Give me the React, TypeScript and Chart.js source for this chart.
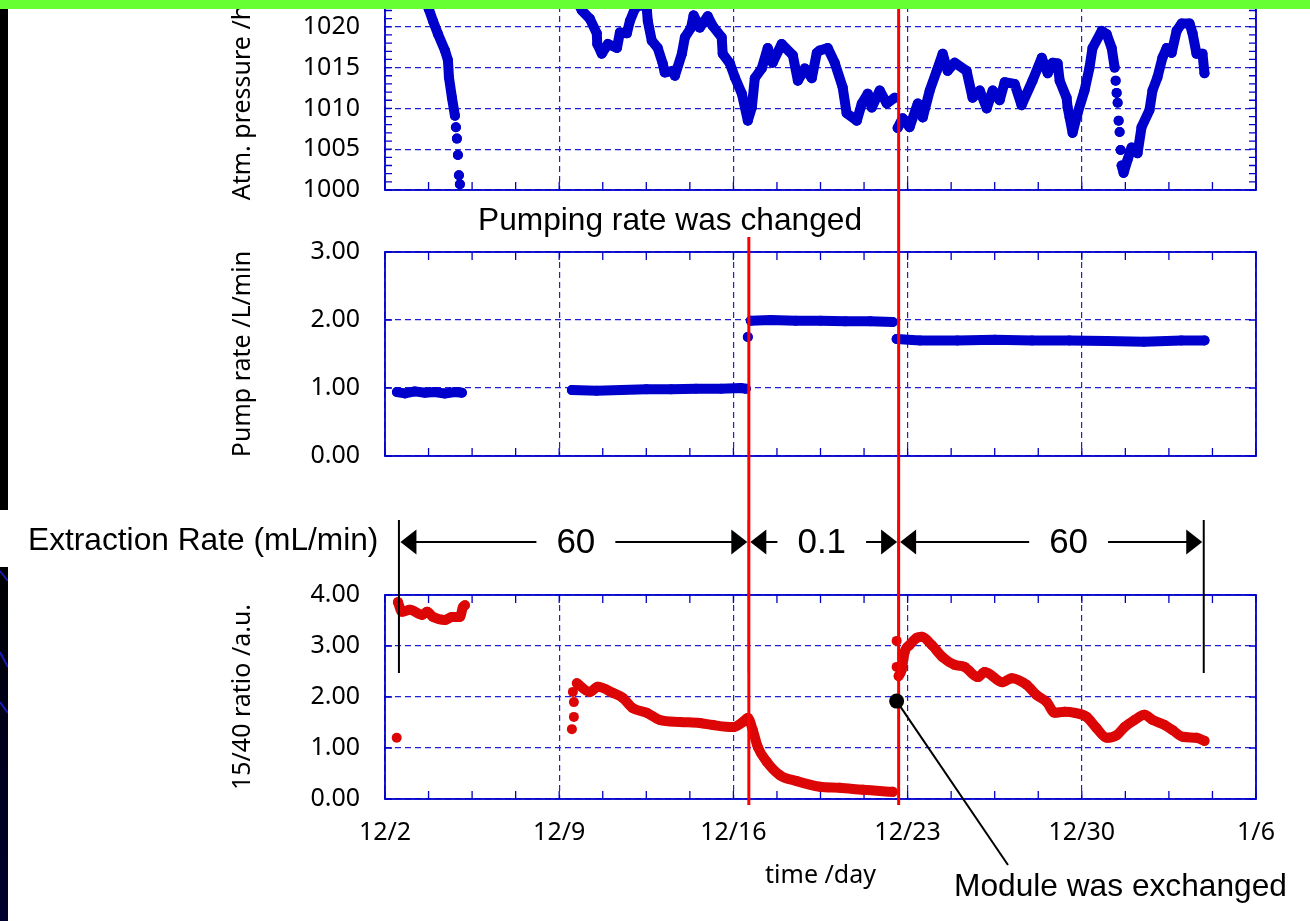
import React, { useEffect, useRef } from 'react';
import { Chart, registerables } from 'chart.js';

Chart.register(...registerables);

// ---------------- data (x = days after 12/2) ----------------
const xTickLabels = ['12/2', '12/9', '12/16', '12/23', '12/30', '1/6'];
const xMin = 0;
const xMax = 35;
const xMinorStep = 1.75;
const xMajorStep = 7;

const pressureDays = [
  0.6, 1.2, 1.6, 1.77, 1.93, 2.13, 2.41, 2.53, 2.57, 2.69, 2.81,
  2.83, 2.85, 2.87, 2.89, 2.91, 2.93, 2.95, 2.97, 2.99, 3.01, 5.0,
  7.4, 7.7, 7.91, 8.23, 8.51, 8.53, 8.71, 8.96, 9.32, 9.44, 9.72, 9.84, 10.04, 10.3, 10.52, 10.56,
  10.72, 10.96, 11.16, 11.24, 11.57, 11.65, 11.93, 12.05, 12.3, 12.4, 12.65, 12.97, 13.17, 13.53,
  13.57, 13.86, 14.06, 14.34, 14.58, 14.74, 14.86, 15.14, 15.38, 15.58, 15.94, 16.39, 16.59, 16.87,
  17.15, 17.35, 17.47, 17.79, 18.07, 18.39, 18.55, 18.96, 19.16, 19.4, 19.56, 19.88, 20.16, 20.48,
  20.54,
  20.6, 20.8, 21.08, 21.41, 21.61, 21.89, 22.17, 22.41, 22.61, 22.89, 23.37, 23.61, 23.9, 24.18,
  24.42, 24.7, 24.9, 25.3, 25.58, 26.02, 26.39, 26.63, 26.83, 27.03, 27.11, 27.39, 27.43, 27.51,
  27.63, 27.83, 28.11, 28.31, 28.43, 28.8, 29.0, 29.2, 29.32,
  29.34, 29.36, 29.38, 29.4, 29.42, 29.44, 29.46, 29.48, 29.5, 29.52, 29.54, 29.56, 29.58,
  29.6, 29.68, 29.84, 30.0, 30.24, 30.4, 30.72, 30.84, 31.04, 31.24, 31.41, 31.61, 31.81, 32.01,
  32.33, 32.45, 32.61, 32.85, 32.93,
];
const pressureHPa = [
  1026.5, 1025.0, 1023.3, 1022.1, 1020.7, 1019.1, 1017.1, 1015.9, 1013.8, 1011.3, 1009.1,
  null, 1007.7, null, 1006.3, null, 1004.3, null, 1001.8, null, 1000.7, null,
  1024.5, 1023.2, 1022.0, 1021.0, 1019.2, 1017.9, 1016.7, 1017.9, 1017.4, 1019.3, 1019.2, 1020.7, 1022.2, 1022.8, 1022.2, 1020.7,
  1018.3, 1017.4, 1015.5, 1014.4, 1014.6, 1014.0, 1016.7, 1018.7, 1019.9, 1021.4, 1019.9, 1021.3, 1020.1, 1018.7,
  1016.7, 1015.5, 1013.8, 1011.8, 1008.5, 1010.1, 1013.7, 1014.9, 1017.4, 1015.6, 1017.9, 1016.5, 1013.4, 1014.9,
  1013.7, 1016.8, 1017.1, 1017.4, 1015.6, 1012.6, 1009.4, 1008.5, 1010.6, 1011.8, 1010.1, 1012.2, 1010.6, 1011.3,
  null,
  1007.6, 1008.8, 1007.7, 1010.6, 1008.9, 1012.2, 1014.6, 1016.7, 1014.6, 1015.6, 1014.6, 1011.3, 1012.2, 1010.0,
  1012.2, 1011.0, 1013.2, 1013.0, 1010.4, 1013.4, 1016.2, 1014.3, 1015.6, 1015.5, 1013.4, 1011.3, 1010.1, 1008.9,
  1007.0, 1009.4, 1012.2, 1015.0, 1017.4, 1019.5, 1019.1, 1017.4, 1015.0,
  null, 1013.4, null, 1011.9, null, 1010.7, null, 1008.5, null, 1007.1, null, 1004.9, null,
  1003.0, 1002.1, 1003.7, 1005.2, 1004.5, 1007.7, 1009.8, 1012.2, 1013.8, 1016.2, 1017.4, 1016.8, 1019.5, 1020.4,
  1020.4, 1019.2, 1016.7, 1016.7, 1014.3,
];

const pumpDays = [
  0.48, 0.8, 1.2, 1.6, 2.0, 2.4, 2.8, 3.09, 5.0,
  7.51, 8.5, 9.5, 10.5, 11.5, 12.5, 13.5, 14.3, 14.5, 14.54,
  14.58, 14.64,
  14.7, 15.5, 16.5, 17.5, 18.5, 19.5, 20.4, 20.48,
  20.56, 21.5, 23.0, 24.5, 26.0, 27.5, 29.0, 30.5, 32.0, 32.93,
];
const pumpRate = [
  0.94, 0.92, 0.95, 0.93, 0.94, 0.92, 0.94, 0.93, null,
  0.97, 0.96, 0.97, 0.98, 0.98, 0.99, 0.99, 1.0, 0.99, null,
  1.75, null,
  1.99, 2.0, 1.99, 1.99, 1.98, 1.98, 1.97, null,
  1.72, 1.7, 1.7, 1.71, 1.7, 1.7, 1.69, 1.68, 1.7, 1.7,
];

const ratioDays = [
  0.47, 0.49,
  0.52, 0.68, 1.0, 1.49, 1.69, 1.93, 2.41, 2.69, 3.01, 3.13, 3.21, 5.0,
  7.51, 7.53, 7.59, 7.6, 7.59, 7.57, 7.55, 7.6,
  7.71, 8.23, 8.55, 9.16, 9.56, 9.96, 10.52, 11.04, 11.85, 12.65, 13.17, 13.98, 14.38, 14.58,
  14.78, 14.98, 15.34, 15.86, 16.55, 17.47, 18.27, 19.2, 20.4, 20.5,
  20.56, 20.58, 20.56, 20.6,
  20.64, 20.76, 20.88, 21.08, 21.37, 21.57, 21.97, 22.41, 22.89, 23.29, 23.82, 24.1, 24.82, 25.18,
  25.78, 26.18, 26.59, 26.91, 27.31, 27.71, 28.19, 28.59, 29.0, 29.4, 29.72, 30.12, 30.52, 30.84,
  31.33, 31.65, 32.05, 32.61, 32.93,
];
const ratioValues = [
  1.2, null,
  3.86, 3.67, 3.71, 3.61, 3.67, 3.57, 3.51, 3.57, 3.57, 3.76, 3.8, null,
  1.37, null, 1.61, null, 1.9, null, 2.1, null,
  2.27, 2.1, 2.2, 2.08, 1.98, 1.78, 1.69, 1.55, 1.51, 1.49, 1.45, 1.41, 1.51, 1.59,
  1.35, 1.02, 0.73, 0.47, 0.35, 0.24, 0.22, 0.18, 0.14, null,
  3.1, null, 2.59, null,
  2.41, 2.53, 2.88, 3.02, 3.16, 3.18, 3.02, 2.78, 2.63, 2.59, 2.39, 2.49, 2.29, 2.37,
  2.24, 2.04, 1.9, 1.69, 1.71, 1.69, 1.61, 1.39, 1.2, 1.25, 1.41, 1.55, 1.65, 1.55,
  1.45, 1.35, 1.22, 1.2, 1.14,
];

// annotations
const redLineDays = [14.62, 20.64];
const extractionBounds = [0.56, 14.62, 20.64, 32.9];
const extractionLabels = ['60', '0.1', '60'];
const extractionLabelDays = [7.67, 17.55, 27.47];
const moduleDay = 20.56;
const moduleRatio = 1.92;

// ---------------- layout / style ----------------
const PAGE_W = 1310;
const PAGE_H = 921;
const SHIFT = 70; // canvases start above the page so the top panel can run off the top
const CANVAS_H = PAGE_H + SHIFT;
const AXIS_LEFT = 224;
const PLOT_LEFT = 385;
const PLOT_RIGHT = 1256;
const X_AXIS_H = 100;

const BLUE = '#0000cc';
const RED_DATA = '#dc0606';
const GRID = '#1f1fd6';
const TICK_FONT = '"Noto Sans", "DejaVu Sans", sans-serif';
const NOTE_FONT = '"Liberation Sans", Arial, sans-serif';

const isMultiple = (v: number, m: number) => Math.abs(v / m - Math.round(v / m)) < 1e-6;

interface PanelSpec {
  title: string;
  min: number;
  max: number;
  step: number;
  labelEvery: number;
  decimals: number;
  days: number[];
  values: (number | null)[];
  color: string;
  top: number; // page px
  bottom: number; // page px
  showX: boolean;
  smooth: boolean;
}

const panels: PanelSpec[] = [
  { title: 'Atm. pressure /hPa', min: 1000, max: 1025, step: 1, labelEvery: 5, decimals: 0,
    days: pressureDays, values: pressureHPa, color: BLUE, top: -14, bottom: 190, showX: false, smooth: false },
  { title: 'Pump rate /L/min', min: 0, max: 3, step: 1, labelEvery: 1, decimals: 2,
    days: pumpDays, values: pumpRate, color: BLUE, top: 252, bottom: 456, showX: false, smooth: false },
  { title: '15/40 ratio /a.u.', min: 0, max: 4, step: 1, labelEvery: 1, decimals: 2,
    days: ratioDays, values: ratioValues, color: RED_DATA, top: 595, bottom: 799, showX: true, smooth: true },
];

const framePlugin = {
  id: 'panelFrame',
  beforeDatasetsDraw(chart: any) {
    const { ctx, chartArea: a } = chart;
    const xs = chart.scales.x;
    const ys = chart.scales.y;
    ctx.save();
    ctx.strokeStyle = BLUE;
    ctx.lineWidth = 1.3;
    ctx.beginPath();
    xs.ticks.forEach((t: any) => {
      const px = xs.getPixelForValue(t.value);
      ctx.moveTo(px, a.bottom);
      ctx.lineTo(px, a.bottom - 8);
      ctx.moveTo(px, a.top);
      ctx.lineTo(px, a.top + 8);
    });
    ys.ticks.forEach((t: any) => {
      const py = ys.getPixelForValue(t.value);
      ctx.moveTo(a.left, py);
      ctx.lineTo(a.left + 7, py);
      ctx.moveTo(a.right, py);
      ctx.lineTo(a.right - 7, py);
    });
    ctx.stroke();
    ctx.lineWidth = 1.8;
    ctx.strokeRect(a.left, a.top, a.right - a.left, a.bottom - a.top);
    ctx.restore();
  },
};

function seg(ctx: CanvasRenderingContext2D, x1: number, y1: number, x2: number, y2: number) {
  ctx.beginPath();
  ctx.moveTo(x1, y1);
  ctx.lineTo(x2, y2);
  ctx.stroke();
}

function arrowHead(ctx: CanvasRenderingContext2D, tipX: number, y: number, dir: number) {
  ctx.beginPath();
  ctx.moveTo(tipX, y);
  ctx.lineTo(tipX - dir * 16, y - 12.5);
  ctx.lineTo(tipX - dir * 16, y + 12.5);
  ctx.closePath();
  ctx.fill();
}

const notesPlugin = {
  id: 'notes',
  afterDraw(chart: any) {
    const { ctx } = chart;
    const xs = chart.scales.x;
    const ys = chart.scales.y;
    const X = (d: number) => xs.getPixelForValue(d);
    const Y = (pageY: number) => pageY + SHIFT;
    ctx.save();
    ctx.strokeStyle = '#000';
    ctx.fillStyle = '#000';
    ctx.lineWidth = 2;
    extractionBounds.forEach((d) => seg(ctx, X(d), Y(520), X(d), Y(673)));

    const ay = Y(542);
    ctx.font = `35px ${NOTE_FONT}`;
    ctx.textAlign = 'center';
    ctx.textBaseline = 'middle';
    for (let i = 0; i < extractionLabels.length; i++) {
      const l = X(extractionBounds[i]) + 1.5;
      const r = X(extractionBounds[i + 1]) - 1.5;
      const c = X(extractionLabelDays[i]);
      const tw = ctx.measureText(extractionLabels[i]).width;
      arrowHead(ctx, l, ay, -1);
      arrowHead(ctx, r, ay, 1);
      seg(ctx, l + 15, ay, c - tw / 2 - 20, ay);
      seg(ctx, c + tw / 2 + 20, ay, r - 15, ay);
      ctx.fillText(extractionLabels[i], c, ay + 1);
    }

    ctx.font = `31.7px ${NOTE_FONT}`;
    ctx.textAlign = 'left';
    ctx.fillText('Extraction Rate (mL/min)', 28, Y(541));
    ctx.textAlign = 'center';
    ctx.fillText('Pumping rate was changed', 670, Y(221));

    // red lines
    ctx.strokeStyle = '#ff0000';
    ctx.lineWidth = 3;
    seg(ctx, X(redLineDays[0]), Y(237), X(redLineDays[0]), Y(805));
    seg(ctx, X(redLineDays[1]), Y(0), X(redLineDays[1]), Y(805));

    // module exchange marker
    const mx = X(moduleDay);
    const my = ys.getPixelForValue(moduleRatio);
    ctx.strokeStyle = '#000';
    ctx.lineWidth = 2;
    seg(ctx, mx, my, 1008, Y(865));
    ctx.beginPath();
    ctx.arc(mx, my, 7.5, 0, Math.PI * 2);
    ctx.fill();
    ctx.textAlign = 'left';
    ctx.fillText('Module was exchanged', 954, Y(887));
    ctx.restore();
  },
};

function buildConfig(p: PanelSpec, plugins: any[]): any {
  const data = p.days.map((d, i) => ({ x: d, y: p.values[i] }));
  const top = p.top + SHIFT;
  const bottom = p.bottom + SHIFT;
  const tickFont = { family: TICK_FONT, size: 25 };
  return {
    type: 'line',
    data: {
      datasets: [
        {
          data,
          borderColor: p.color,
          backgroundColor: p.color,
          borderWidth: 10,
          pointRadius: 5,
          pointHoverRadius: 5,
          pointBorderWidth: 0,
          borderCapStyle: 'round',
          borderJoinStyle: 'round',
          spanGaps: false,
          tension: 0,
          cubicInterpolationMode: p.smooth ? 'monotone' : 'default',
          fill: false,
        },
      ],
    },
    options: {
      responsive: false,
      maintainAspectRatio: false,
      animation: false,
      events: [],
      layout: {
        padding: {
          left: AXIS_LEFT,
          right: PAGE_W - PLOT_RIGHT,
          top,
          bottom: CANVAS_H - bottom - (p.showX ? X_AXIS_H : 0),
        },
      },
      plugins: { legend: { display: false }, tooltip: { enabled: false } },
      scales: {
        x: {
          type: 'linear',
          min: xMin,
          max: xMax,
          afterFit: (s: any) => {
            s.height = p.showX ? X_AXIS_H : 0;
          },
          ticks: {
            display: p.showX,
            stepSize: xMinorStep,
            autoSkip: false,
            maxRotation: 0,
            padding: 19,
            color: '#000',
            font: tickFont,
            callback: (v: number) => (isMultiple(v, xMajorStep) ? xTickLabels[Math.round(v / xMajorStep)] : ''),
          },
          grid: {
            drawTicks: false,
            lineWidth: 1.2,
            color: (c: any) => (c.tick && isMultiple(c.tick.value, xMajorStep) ? GRID : 'rgba(0,0,0,0)'),
          },
          border: { display: false, dash: [6, 4] },
          title: {
            display: p.showX,
            text: 'time /day',
            color: '#000',
            font: tickFont,
            padding: { top: 0, bottom: 8 },
          },
        },
        y: {
          type: 'linear',
          min: p.min,
          max: p.max,
          afterFit: (s: any) => {
            s.width = PLOT_LEFT - AXIS_LEFT;
          },
          ticks: {
            stepSize: p.step,
            autoSkip: false,
            padding: 25,
            color: '#000',
            font: tickFont,
            callback: (v: number) => (isMultiple(v, p.labelEvery) ? v.toFixed(p.decimals) : ''),
          },
          grid: {
            drawTicks: false,
            lineWidth: 1.2,
            color: (c: any) => (c.tick && isMultiple(c.tick.value, p.labelEvery) ? GRID : 'rgba(0,0,0,0)'),
          },
          border: { display: false, dash: [6, 4] },
          title: {
            display: true,
            text: p.title,
            color: '#000',
            font: tickFont,
            padding: { top: 4, bottom: 4 },
          },
        },
      },
    },
    plugins,
  };
}

export default function App() {
  const r0 = useRef<HTMLCanvasElement>(null);
  const r1 = useRef<HTMLCanvasElement>(null);
  const r2 = useRef<HTMLCanvasElement>(null);

  useEffect(() => {
    const refs = [r0, r1, r2];
    const charts = panels.map((p, i) =>
      new Chart(refs[i].current as HTMLCanvasElement, buildConfig(p, i === 2 ? [framePlugin, notesPlugin] : [framePlugin]))
    );
    return () => charts.forEach((c) => c.destroy());
  }, []);

  const canvasStyle: React.CSSProperties = {
    position: 'absolute',
    left: 0,
    top: -SHIFT,
    width: PAGE_W,
    height: CANVAS_H,
  };

  return (
    <div
      style={{
        position: 'fixed',
        left: 0,
        top: 0,
        width: PAGE_W,
        height: PAGE_H,
        overflow: 'hidden',
        background: '#ffffff',
      }}
    >
      <canvas ref={r0} width={PAGE_W} height={CANVAS_H} style={canvasStyle} />
      <canvas ref={r1} width={PAGE_W} height={CANVAS_H} style={canvasStyle} />
      <canvas ref={r2} width={PAGE_W} height={CANVAS_H} style={canvasStyle} />
      <div style={{ position: 'absolute', left: 0, top: 0, width: PAGE_W, height: 9, background: '#66ff33' }} />
      <div style={{ position: 'absolute', left: 0, top: 9, width: 8, height: 501, background: '#000' }} />
      <div
        style={{
          position: 'absolute',
          left: 0,
          top: 567,
          width: 8,
          height: PAGE_H - 567,
          background: 'linear-gradient(#000000 0%, #00001a 45%, #00002e 100%)',
        }}
      />
      <svg style={{ position: 'absolute', left: 0, top: 0 }} width={8} height={PAGE_H}>
        <line x1={0} y1={571} x2={8} y2={581} stroke="#1a1ab8" strokeWidth={2} />
        <line x1={0} y1={652} x2={8} y2={667} stroke="#1a1ab8" strokeWidth={2} />
        <line x1={0} y1={702} x2={8} y2={713} stroke="#1a1ab8" strokeWidth={2} />
      </svg>
    </div>
  );
}
